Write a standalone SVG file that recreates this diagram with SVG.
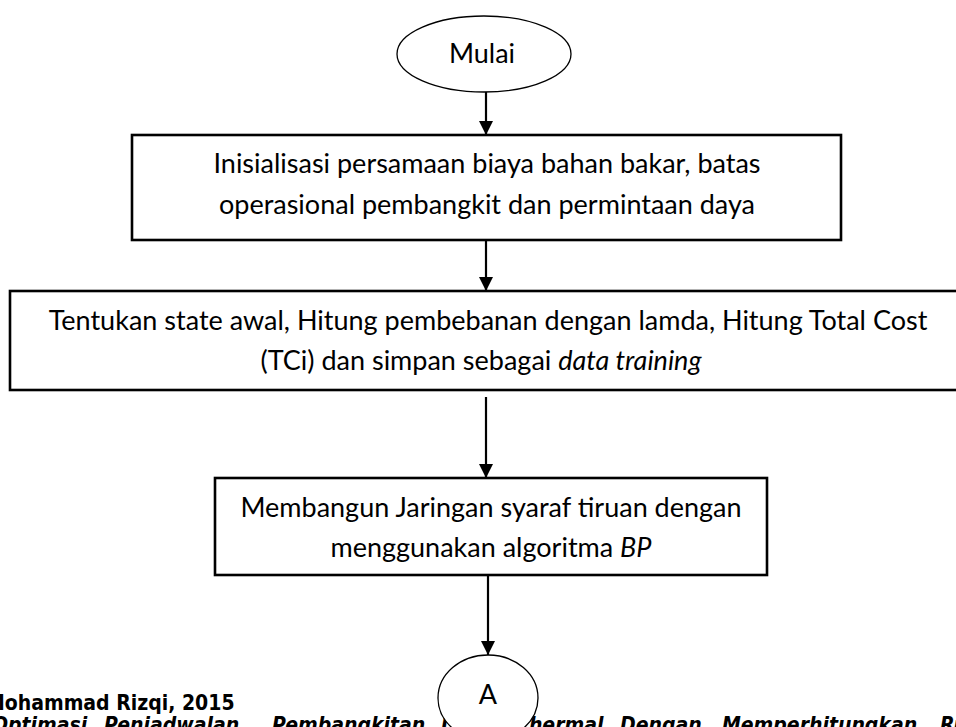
<svg xmlns="http://www.w3.org/2000/svg" width="956" height="727" viewBox="0 0 956 727">
  <defs>
    <marker id="arrow" viewBox="0 0 14 14" refX="14" refY="7" markerWidth="14" markerHeight="14" markerUnits="userSpaceOnUse" orient="auto">
      <path d="M0,0 L14,7 L0,14 z" fill="#000"/>
    </marker>
    <style>
      .box { fill: #fff; stroke: #000; stroke-width: 2.6; }
      .term { fill: #fff; stroke: #000; stroke-width: 1.3; }
      .label { font-family: Lato, "Liberation Sans", sans-serif; font-size: 27px; fill: #000; text-anchor: middle; }
      .edge { stroke: #000; stroke-width: 2.2; fill: none; marker-end: url(#arrow); }
      .foot { font-family: "DejaVu Sans Condensed", "DejaVu Sans", sans-serif; font-weight: bold; font-size: 21px; fill: #000; }
    </style>
  </defs>
  <rect width="956" height="727" fill="#fff"/>

  <!-- page footer (behind the off-page connector) -->
  <g id="footer">
    <text class="foot" x="-14" y="710">Mohammad Rizqi, 2015</text>
    <text class="foot" y="732" font-style="italic"><tspan x="-8">Optimasi</tspan><tspan x="104">Penjadwalan</tspan><tspan x="272">Pembangkitan</tspan><tspan x="441">Unit</tspan><tspan x="516">Thermal</tspan><tspan x="620">Dengan</tspan><tspan x="722">Memperhitungkan</tspan><tspan x="940">Rugi</tspan></text>
  </g>

  <g id="connectors">
    <line class="edge" x1="486" y1="92" x2="486" y2="135"/>
    <line class="edge" x1="486" y1="240" x2="486" y2="291"/>
    <line class="edge" x1="486" y1="397" x2="486" y2="478"/>
    <line class="edge" x1="488" y1="575" x2="488" y2="655"/>
  </g>

  <g id="start">
    <ellipse class="term" cx="484" cy="54" rx="87" ry="38"/>
    <text class="label" x="482" y="63">Mulai</text>
  </g>

  <g id="init">
    <rect class="box" x="132" y="135" width="709" height="105"/>
    <text class="label" x="487" y="173">Inisialisasi persamaan biaya bahan bakar, batas</text>
    <text class="label" x="487" y="214">operasional pembangkit dan permintaan daya</text>
  </g>

  <g id="state">
    <rect class="box" x="10" y="291" width="960" height="99"/>
    <text class="label" x="488" y="330">Tentukan state awal, Hitung pembebanan dengan lamda, Hitung Total Cost</text>
    <text class="label" x="481" y="370">(TCi) dan simpan sebagai <tspan font-style="italic">data training</tspan></text>
  </g>

  <g id="network">
    <rect class="box" x="215" y="478" width="552" height="97"/>
    <text class="label" x="491" y="517">Membangun Jaringan syaraf tiruan dengan</text>
    <text class="label" x="491" y="557">menggunakan algoritma <tspan font-style="italic">BP</tspan></text>
  </g>

  <g id="connector-a">
    <ellipse class="term" cx="488" cy="698" rx="50" ry="43"/>
    <text class="label" x="488" y="704">A</text>
  </g>
</svg>
